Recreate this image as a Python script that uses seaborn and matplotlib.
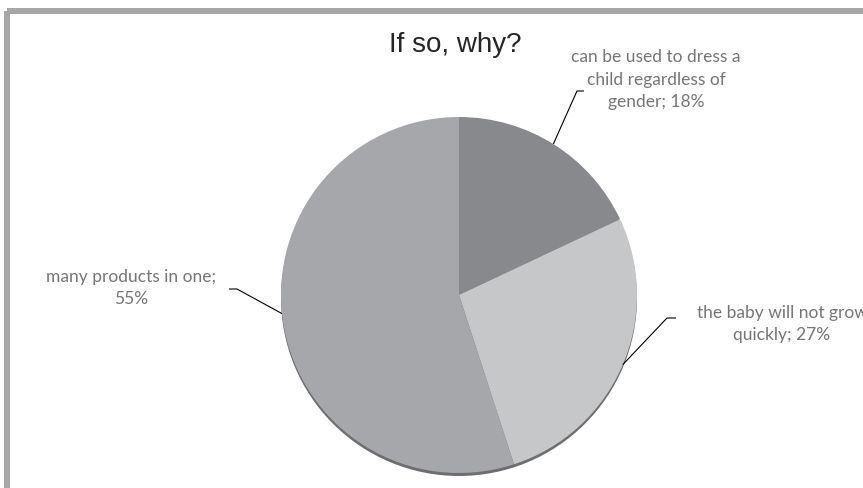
import matplotlib
matplotlib.use("Agg")
import matplotlib.pyplot as plt
import seaborn as sns
import numpy as np
from matplotlib.patches import Rectangle

# ---- data ----
categories = ["can be used to dress a child regardless of gender",
              "the baby will not grow quickly",
              "many products in one"]
values = [18, 27, 55]
wrapped_names = ["can be used to dress a\nchild regardless of\ngender",
                 "the baby will not grow\nquickly",
                 "many products in one;\n"]
title = "If so, why?"

# ---- style ----
sns.set_theme(style="white")
plt.rcParams['font.family'] = ['Lato', 'DejaVu Sans']
colors = ["#88898d", "#c6c7c9", "#a6a7ab"]

W, H = 863, 488
fig = plt.figure(figsize=(W / 100, H / 100), dpi=100)
ax = fig.add_axes([0, 0, 1, 1])


def P(x, y):
    return (x, H - y)


cx, cy, R = 459, 295, 178

# shadow
ax.pie([1], colors=["#6e6e70"], radius=R, center=P(cx, cy + 3),
       startangle=90, counterclock=False, wedgeprops=dict(linewidth=0))
wedges, _ = ax.pie(values, colors=colors, radius=R, center=P(cx, cy),
                   startangle=90, counterclock=False,
                   wedgeprops=dict(linewidth=0))

ax.set_xlim(0, W)
ax.set_ylim(0, H)
ax.set_aspect('equal')
ax.axis('off')

# labels
label_texts = []
for name, v in zip(wrapped_names, values):
    if name.endswith("\n"):
        label_texts.append(f"{name}{v}%")
    else:
        label_texts.append(f"{name}; {v}%")

text_pos = [(656, 80), (782, 324), (131, 288)]
anchor_angle = [32, 113, 264]   # where each leader line leaves the pie (deg from top)
elbows = [[(577, 91), (584, 91)], [(667, 318), (676, 318)], [(237, 289), (229, 289)]]

for t, pos, ang, elb in zip(label_texts, text_pos, anchor_angle, elbows):
    ex = cx + R * np.sin(np.radians(ang))
    ey = cy - R * np.cos(np.radians(ang))
    pts = [P(ex, ey)] + [P(*p) for p in elb]
    xs, ys = zip(*pts)
    ax.plot(xs, ys, color="black", lw=0.8, solid_capstyle='butt')
    ax.text(*P(*pos), t, ha='center', va='center', fontsize=12.5,
            color="#767676", linespacing=1.5)

ax.text(*P(455, 45), title, ha='center', va='center',
        fontsize=20, color="#262626", family=['Liberation Sans', 'DejaVu Sans'])

# chart border
fig.patches.append(Rectangle((7, H - 11), 900, -520, transform=None,
                             fill=False, edgecolor="#a6a6a6", linewidth=4.32))

fig.savefig("out.png", dpi=100, facecolor="white")
